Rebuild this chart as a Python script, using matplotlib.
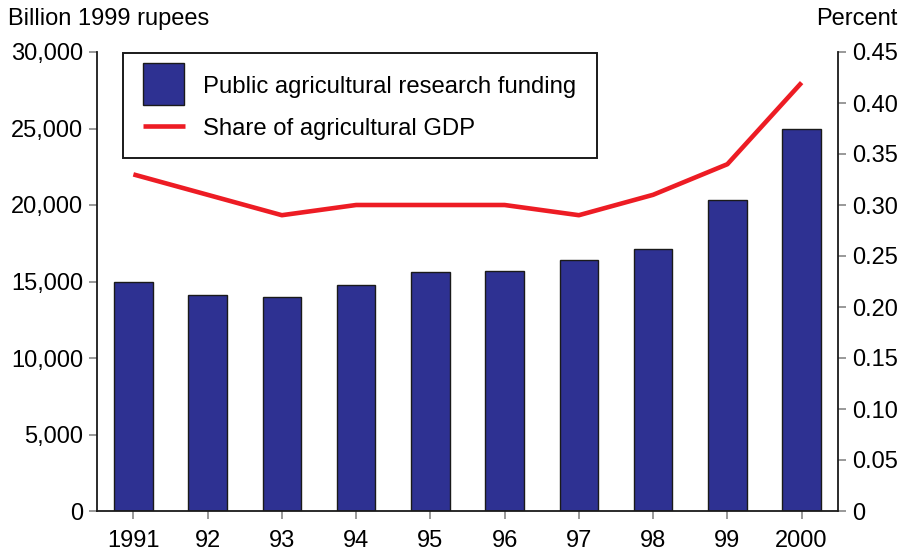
import matplotlib
matplotlib.use("Agg")
import matplotlib.pyplot as plt
from matplotlib.patches import Rectangle
from matplotlib.lines import Line2D
from matplotlib.ticker import FuncFormatter

years = ["1991", "92", "93", "94", "95", "96", "97", "98", "99", "2000"]
funding = [15000, 14100, 14000, 14800, 15600, 15700, 16400, 17100, 20300, 25000]
share = [0.33, 0.31, 0.29, 0.30, 0.30, 0.30, 0.29, 0.31, 0.34, 0.42]
left_ticks = [0, 5000, 10000, 15000, 20000, 25000, 30000]
right_ticks = [0, 0.05, 0.10, 0.15, 0.20, 0.25, 0.30, 0.35, 0.40, 0.45]
right_labels = ["0", "0.05", "0.10", "0.15", "0.20", "0.25", "0.30", "0.35", "0.40", "0.45"]

plt.rcParams['font.family'] = ['Liberation Sans', 'DejaVu Sans']
FS = 17
BLUE = "#2E3192"
RED = "#ED1C24"
GRAY = "#888888"

fig = plt.figure(figsize=(9.02, 5.52), dpi=100)
ax = fig.add_axes([97/902, 41/552, 741/902, 459/552])
ax2 = ax.twinx()

x = list(range(len(years)))
ax.bar(x, funding, width=0.52, color=BLUE, edgecolor="#1a1a1a", linewidth=1.0, zorder=2)
ax.set_xlim(-0.49, len(years) - 0.51)
ax.set_ylim(0, 30000)
ax.set_yticks(left_ticks)
ax.yaxis.set_major_formatter(FuncFormatter(lambda v, p: f"{int(v):,}"))
ax.set_xticks(x)
ax.set_xticklabels(years)

ax2.plot(x, share, color=RED, linewidth=3.3, zorder=3, solid_capstyle='butt')
ax2.set_ylim(0, 0.45)
ax2.set_yticks(right_ticks)
ax2.set_yticklabels(right_labels)

for a in (ax, ax2):
    a.spines['top'].set_visible(False)
    for s in ('left', 'right', 'bottom'):
        a.spines[s].set_linewidth(1.3)
        a.spines[s].set_color('#1a1a1a')
ax.spines['right'].set_visible(False)
ax2.spines['left'].set_visible(False)
ax2.spines['bottom'].set_visible(False)

ax.tick_params(axis='y', length=6, width=1.2, color=GRAY, labelsize=FS, pad=4)
ax.tick_params(axis='x', length=6, width=1.2, color=GRAY, labelsize=FS, pad=8)
ax2.tick_params(axis='y', length=6, width=1.2, color=GRAY, labelsize=FS, pad=4)

# axis titles
fig.text(8/902, 1 - 19/552, "Billion 1999 rupees", fontsize=FS, ha='left', va='center')
fig.text(897/902, 1 - 19/552, "Percent", fontsize=FS, ha='right', va='center')

# legend box (manual)
def fx(px):
    return (px - 97) / 741
def fy(py):
    return (511 - py) / 459

frame = Rectangle((fx(123), fy(158)), fx(597) - fx(123), fy(53) - fy(158),
                  transform=ax2.transAxes, facecolor='white', edgecolor='#1a1a1a',
                  linewidth=1.4, zorder=5, clip_on=False)
ax2.add_patch(frame)
sq = Rectangle((fx(143), fy(105)), fx(184) - fx(143), fy(63) - fy(105),
               transform=ax2.transAxes, facecolor=BLUE, edgecolor='#1a1a1a',
               linewidth=1.0, zorder=6, clip_on=False)
ax2.add_patch(sq)
ax2.add_line(Line2D([fx(143), fx(185)], [fy(126), fy(126)], transform=ax2.transAxes,
                    color=RED, linewidth=3.3, zorder=6, clip_on=False, solid_capstyle='butt'))
ax2.text(fx(203), fy(87), "Public agricultural research funding", transform=ax2.transAxes,
         fontsize=17.2, ha='left', va='center', zorder=7)
ax2.text(fx(203), fy(129), "Share of agricultural GDP", transform=ax2.transAxes,
         fontsize=17.2, ha='left', va='center', zorder=7)

fig.savefig("out.png", dpi=100)
